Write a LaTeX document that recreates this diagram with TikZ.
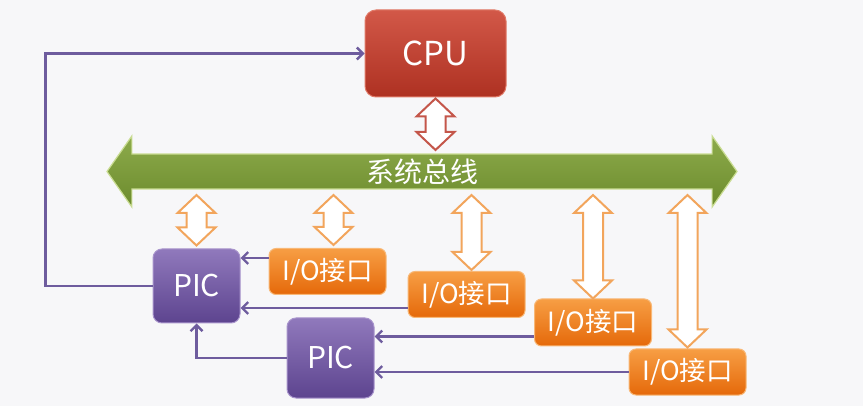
\documentclass[tikz,border=0pt]{standalone}
\usepackage{fontspec}
\setmainfont{Noto Sans CJK SC}
\usepackage{tikz}
\usetikzlibrary{calc}
\usetikzlibrary{arrows.meta}
\usetikzlibrary{shapes}
\usetikzlibrary{shapes.arrows}
\definecolor{bgcol}{HTML}{F7F7F9}
\definecolor{cputop}{HTML}{D25848}
\definecolor{cpubottom}{HTML}{AE3122}
\definecolor{cpuedge}{HTML}{E07A68}
\definecolor{bustopcol}{HTML}{8DAB4B}
\definecolor{busbotcol}{HTML}{6C8B2D}
\definecolor{busedge}{HTML}{C9DC92}
\definecolor{pictop}{HTML}{9079BC}
\definecolor{picbottom}{HTML}{5D448F}
\definecolor{picedge}{HTML}{A894CC}
\definecolor{iotop}{HTML}{F79E44}
\definecolor{iobottom}{HTML}{E5690A}
\definecolor{ioedge}{HTML}{F8B877}
\definecolor{linkcol}{HTML}{6E5C9E}
\definecolor{wideorange}{HTML}{F2A55C}
\definecolor{widered}{HTML}{C4564A}
\tikzset{>=latex}
\tikzstyle{box} = [rectangle, inner sep=0pt, text=white, line width=1pt]
\tikzstyle{cpubox} = [box, rounded corners=11pt, draw=cpuedge, top color=cputop, bottom color=cpubottom, minimum width=141pt, minimum height=87pt, font=\fontsize{33}{33}\selectfont]
\tikzstyle{picbox} = [box, rounded corners=9pt, draw=picedge, top color=pictop, bottom color=picbottom, minimum width=87pt, font=\fontsize{30}{30}\selectfont]
\tikzstyle{iobox} = [box, rounded corners=7pt, draw=ioedge, top color=iotop, bottom color=iobottom, minimum width=117pt, minimum height=46pt, font=\fontsize{26.5}{26.5}\selectfont]
\tikzstyle{busarrow} = [double arrow, double arrow head extend=14pt, double arrow tip angle=110, minimum height=630pt, minimum width=71pt, inner sep=0pt, draw=busedge, line width=1.2pt, top color=bustopcol, bottom color=busbotcol, text=white, font=\fontsize{28}{28}\selectfont]
\tikzstyle{link} = [-{Straight Barb[length=6pt,width=12pt,line width=2.4pt]}, draw=linkcol, line width=2.6pt]
\tikzstyle{wide} = [draw=#1, fill=white, line width=2pt, line join=miter]

% hollow two-headed arrow from #2 (top) down to #3 (bottom)
\newcommand{\wideline}[3][wideorange]{%
  \path[wide=#1] let \p1=#2, \p2=#3 in
    (\x1,\y1) -- (\x1+19pt,\y1-18pt) -- (\x1+10pt,\y1-18pt) -- (\x2+10pt,\y2+18pt)
    -- (\x2+19pt,\y2+18pt) -- (\x2,\y2) -- (\x2-19pt,\y2+18pt) -- (\x2-10pt,\y2+18pt)
    -- (\x1-10pt,\y1-18pt) -- (\x1-19pt,\y1-18pt) -- cycle;}

\begin{document}
\begin{tikzpicture}[x=1pt, y=-1pt]
\fill [bgcol] (0,0) rectangle (863,406);
\useasboundingbox (0,0) rectangle (863,406);

\node [cpubox] (cpu) at (435.5, 53.5) {CPU};
\node [busarrow] (bus) at (422, 171.5) {系统总线};
\coordinate (busup) at (422, 150);
\coordinate (busdown) at (422, 195);

\node [picbox, minimum height=74pt] (pic1) at (196.5, 286) {PIC};
\node [picbox, minimum height=80pt] (pic2) at (330.5, 358) {PIC};
\node [iobox] (io1) at (327.5, 271.5) {I/O接口};
\node [iobox] (io2) at (466.5, 294.5) {I/O接口};
\node [iobox, minimum height=47pt] (io3) at (593, 322.5) {I/O接口};
\node [iobox] (io4) at (687.5, 372) {I/O接口};

% bus connections
\wideline[widered]{([yshift=-1pt]cpu.south)}{(cpu.south |- busup)}
\foreach \n/\dx/\gap in {pic1/0/3, io1/6/3, io2/5/1, io3/0/0, io4/0/1} {
  \coordinate (foot) at ([xshift=\dx pt, yshift=\gap pt]\n.north);
  \wideline{(busdown -| foot)}{(foot)}
}

% interrupt lines
\draw [link] (pic1.west) -- ++(-107,0) |- (cpu.west);
\coordinate (r1) at ([yshift=-10pt]io1.north west);
\draw [link] (r1) -- (r1 -| pic1.east);
\coordinate (r2) at ([yshift=10pt]io2.south west);
\draw [link] (r2) -- (r2 -| pic1.east);
\coordinate (r3) at ([yshift=10pt]io3.south west);
\draw [link] (r3) -- (r3 -| pic2.east);
\draw [link] (io4.west) -- (io4.west -| pic2.east);
\draw [link] (pic2.west) -| (pic1.south);
\end{tikzpicture}
\end{document}
